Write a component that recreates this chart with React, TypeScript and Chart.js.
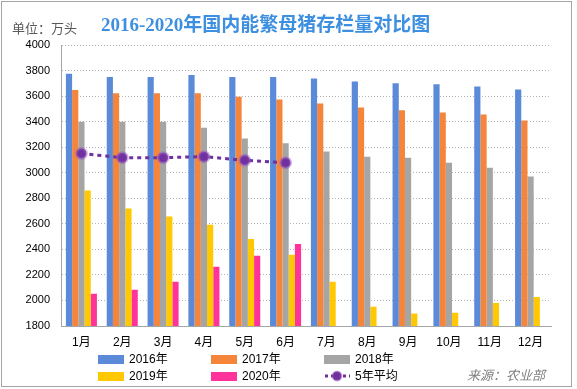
import React, { useEffect, useRef } from "react";
import { Chart, registerables } from "chart.js";

Chart.register(...registerables);

const months = ["1月", "2月", "3月", "4月", "5月", "6月", "7月", "8月", "9月", "10月", "11月", "12月"];
const y2016 = [3775, 3750, 3750, 3765, 3750, 3750, 3738, 3715, 3700, 3692, 3676, 3652];
const y2017 = [3647, 3623, 3623, 3623, 3594, 3573, 3542, 3510, 3489, 3471, 3456, 3408];
const y2018 = [3400, 3400, 3400, 3353, 3267, 3230, 3167, 3125, 3117, 3078, 3039, 2971];
const y2019 = [2861, 2720, 2657, 2592, 2482, 2358, 2146, 1950, 1897, 1903, 1981, 2028];
const y2020 = [2052, 2083, 2146, 2264, 2350, 2442, null, null, null, null, null, null];
const avg5 = [3150, 3118, 3118, 3126, 3097, 3078, null, null, null, null, null, null];
const seriesNames = ["2016年", "2017年", "2018年", "2019年", "2020年", "5年平均"];
const colors = ["#5b8bd8", "#f5853a", "#a5a5a5", "#ffc800", "#ff3399", "#7030a0"];

const FONT = "'Liberation Sans', 'Noto Sans CJK SC', sans-serif";

export default function App() {
  const ref = useRef<HTMLCanvasElement | null>(null);

  useEffect(() => {
    if (!ref.current) return;
    const barSets = [y2016, y2017, y2018, y2019, y2020].map((d, i) => ({
      type: "bar" as const,
      label: seriesNames[i],
      data: d,
      backgroundColor: colors[i],
      borderWidth: 0,
      order: 1,
      categoryPercentage: 0.76,
      barPercentage: 1.0,
    }));
    const chart = new Chart(ref.current, {
      type: "bar",
      data: {
        labels: months,
        datasets: [
          {
            type: "line" as const,
            label: seriesNames[5],
            data: avg5,
            borderColor: colors[5],
            borderWidth: 3,
            borderDash: [4, 4],
            pointRadius: 5,
            pointBackgroundColor: colors[5],
            pointBorderColor: "rgba(150,90,190,0.45)",
            pointBorderWidth: 3,
            fill: false,
            order: 0,
            spanGaps: false,
          } as any,
          ...barSets,
        ],
      },
      options: {
        animation: false,
        responsive: false,
        layout: { padding: { top: 45, right: 26, left: 0, bottom: 0 } },
        plugins: {
          legend: { display: false },
          title: { display: false },
          tooltip: { enabled: false },
        },
        scales: {
          x: {
            grid: { display: false, drawTicks: false },
            border: { display: true, color: "#a6a6a6", width: 1 },
            ticks: { color: "#000", font: { family: FONT, size: 12 }, padding: 9, maxRotation: 0 },
            afterFit: (s: any) => {
              s.height = 63;
            },
          },
          y: {
            min: 1800,
            max: 4000,
            ticks: {
              stepSize: 200,
              color: "#000",
              font: { family: FONT, size: 11 },
              padding: 11,
              callback: (v: any) => String(v),
            },
            grid: { color: "#b4b4b4", drawTicks: false, lineWidth: 1 },
            border: { display: true, dash: [1, 2], color: "#a6a6a6" },
            afterFit: (s: any) => {
              s.width = 61;
            },
          },
        },
      },
    } as any);
    return () => chart.destroy();
  }, []);

  const legendItem = (i: number, left: number, top: number) => (
    <div key={i} style={{ position: "absolute", left, top, height: 14, display: "flex", alignItems: "center" }}>
      {i < 5 ? (
        <span style={{ display: "inline-block", width: 26, height: 9, background: colors[i] }} />
      ) : (
        <svg width="26" height="12" style={{ display: "block" }}>
          <line x1="1" y1="6" x2="26" y2="6" stroke={colors[5]} strokeWidth="3" strokeDasharray="3,3" />
          <circle cx="13" cy="6" r="4.5" fill={colors[5]} stroke="rgba(150,90,190,0.45)" strokeWidth="2" />
        </svg>
      )}
      <span style={{ marginLeft: 5, fontFamily: FONT, fontSize: 12, lineHeight: "14px", color: "#000", whiteSpace: "nowrap" }}>
        {seriesNames[i]}
      </span>
    </div>
  );

  return (
    <div style={{ position: "absolute", left: 0, top: 0, width: 577, height: 389, background: "#fff" }}>
      <canvas ref={ref} width={577} height={389} style={{ position: "absolute", left: 0, top: 0, width: 577, height: 389 }} />
      <div
        style={{
          position: "absolute",
          left: 1,
          top: 1,
          width: 571,
          height: 386,
          border: "1px solid #a6a6a6",
          boxSizing: "border-box",
          pointerEvents: "none",
        }}
      />
      <div
        style={{
          position: "absolute",
          left: 12,
          top: 21,
          fontFamily: FONT,
          fontSize: 13,
          lineHeight: "16px",
          color: "#595959",
          whiteSpace: "nowrap",
        }}
      >
        单位：万头
      </div>
      <div
        style={{
          position: "absolute",
          left: 101,
          top: 13,
          fontFamily: "'Liberation Serif', 'Noto Sans CJK SC', serif",
          fontWeight: "bold",
          fontSize: 19,
          lineHeight: "24px",
          color: "#3d8fe0",
          whiteSpace: "nowrap",
        }}
      >
        2016-2020年国内能繁母猪存栏量对比图
      </div>
      {legendItem(0, 98, 352)}
      {legendItem(1, 211, 352)}
      {legendItem(2, 324, 352)}
      {legendItem(3, 98, 369)}
      {legendItem(4, 211, 369)}
      {legendItem(5, 324, 369)}
      <div
        style={{
          position: "absolute",
          left: 467,
          top: 368,
          fontFamily: FONT,
          fontSize: 13,
          lineHeight: "16px",
          fontStyle: "italic",
          color: "#7f7f7f",
          whiteSpace: "nowrap",
        }}
      >
        来源：农业部
      </div>
    </div>
  );
}
